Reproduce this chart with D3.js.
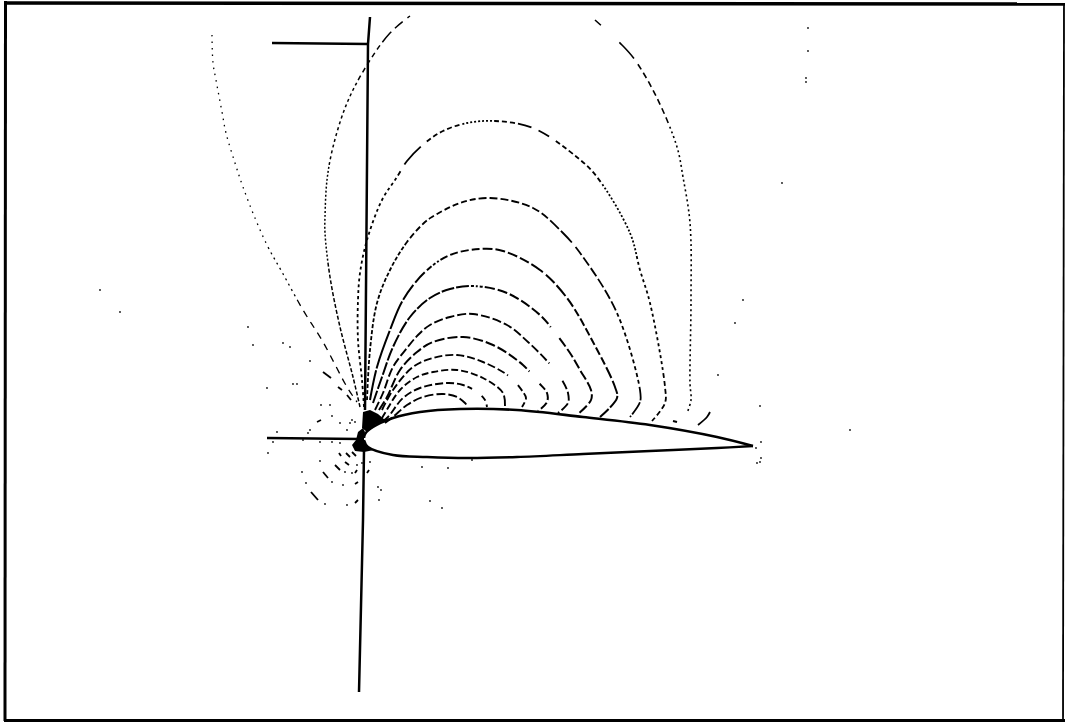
<!DOCTYPE html>
<html>
<head>
<meta charset="utf-8">
<style>
  html, body { margin: 0; background: #fff; }
  svg { display: block; }
</style>
<script src="https://cdn.jsdelivr.net/npm/d3@7"></script>
</head>
<body>
<svg width="1065" height="722"></svg>
<script>
// plot units: origin at the leading edge, chord = 392
var airfoilUpper = [[392,-1],[356,8],[289,20],[222,28],[156,35],[99,36],[59,33],[32,27],[12,18],[4,11],[3,7]];
var airfoilLower = [[3,5],[7,-2],[32,-10],[66,-12],[106,-13],[156,-12],[222,-9],[289,-6],[356,-3],[392,-1]];

var contour1 = [[24,22],[32,28],[46,40],[62,48],[82,51],[96,48],[104,42],[107,38]];
var contour2 = [[22,24],[27,28],[42,47],[59,57],[86,62],[102,60],[116,53],[124,45],[126,38]];
var contour3 = [[21,27],[24,32],[39,55],[56,68],[72,73],[96,75],[122,67],[142,52],[144,39]];
var contour4 = [[21,35],[32,55],[52,78],[72,87],[96,90],[122,83],[149,68],[162,53],[165,47],[161,38]];
var contour5 = [[18,35],[26,48],[39,75],[56,93],[72,103],[102,108],[132,100],[162,80],[177,63],[186,52],[186,43],[177,34]];
var contour6 = [[14,35],[22,52],[32,78],[46,97],[57,110],[69,120],[89,128],[112,131],[146,120],[167,103],[187,83],[196,72],[201,65],[207,52],[207,42],[197,32]];
var contour7 = [[12,42],[21,68],[32,98],[49,128],[69,147],[89,156],[112,159],[146,152],[179,130],[192,115],[209,92],[219,75],[230,55],[230,45],[217,31]];
var contour8 = [[9,45],[16,78],[29,115],[42,145],[64,173],[89,190],[119,196],[142,194],[179,175],[206,147],[232,103],[254,58],[256,47],[239,28]];
var contour9 = [[6,45],[9,95],[16,142],[29,175],[46,203],[64,223],[71,228],[99,242],[129,247],[172,237],[202,212],[222,188],[256,132],[279,55],[279,43],[269,28]];
var contour10 = [[3,38],[1,65],[-3,105],[-3,145],[-1,172],[6,205],[21,245],[36,268],[46,284],[64,302],[82,314],[106,322],[134,324],[172,317],[217,287],[236,268],[269,212],[279,175],[289,142],[304,58],[304,42],[291,24]];
var outerLeft = [[-1,38],[-8,68],[-21,118],[-31,168],[-36,212],[-36,228],[-34,265],[-28,298],[-14,342],[6,380],[29,412],[49,429]];
var outerRight = [[234,425],[261,400],[274,385],[296,347],[316,298],[322,268],[329,222],[330,145],[329,62],[330,45],[326,32]];
var farLeft = [[-149,410],[-148,382],[-145,365],[-139,333],[-135,312],[-126,282],[-118,258],[-106,227],[-93,198],[-79,173],[-58,135],[-38,103],[-14,58],[-4,43]];
var trailingDash = [[337,20],[346,28],[349,33]];
var trailingSpot = [[312,24],[316,23]];

var contours = [contour1, contour2, contour3, contour4, contour5, contour6, contour7, contour8, contour9, contour10, outerLeft, outerRight, farLeft];
var hookDash = '14 2 '.repeat(6);
var contourDash = [
  '9 3 '.repeat(11) + hookDash,
  '8 3 '.repeat(9) + '5 12 6 4 ' + hookDash,
  '7 3 '.repeat(14) + '8 3 ' + hookDash,
  '8 3 '.repeat(14) + '1 14 ' + '7 3 '.repeat(5) + hookDash,
  '10 3 '.repeat(15) + '1 16 ' + '8 3 '.repeat(9) + hookDash,
  '9 3 '.repeat(20) + '1 22 ' + '9 3 '.repeat(9) + hookDash,
  '13 2 '.repeat(11) + '3 2 2 2 3 2 ' + '10 3 '.repeat(6) + '1 14 ' + '10 3 '.repeat(8) + hookDash,
  '30 2 40 2 30 2 18 3 14 3 6 2 3 2 2 2 ' + '8 3 '.repeat(4) + '10 3 '.repeat(4) + '14 4 12 3 14 3 10 3 ' + '8 3 '.repeat(6) + '12 3 ' + hookDash,
  '4 2 '.repeat(27) + '6 3 '.repeat(10) + '8 3 '.repeat(7) + '12 3 16 6 ' + '10 3 '.repeat(6) + '4 3 '.repeat(11) + hookDash,
  '3 3 '.repeat(40) + '5 8 24 8 ' + '5 3 '.repeat(5) + '2 2 '.repeat(8) + '5 3 5 3 5 3 14 8 12 8 ' + '5 3 '.repeat(8) + '2 2 '.repeat(20) + '3 3 '.repeat(20) + '5 3 '.repeat(8) + hookDash,
  '4 2 '.repeat(25) + '2 2 '.repeat(24) + '3 3 '.repeat(15) + '5 4 '.repeat(5) + '14 5 10 6 6 40',
  '8 25 22 7 ' + '6 4 '.repeat(7) + '2 3 '.repeat(78) + '8 3 8 3 8 40',
  '1.5 5 '.repeat(34) + '2 4 '.repeat(10) + '7 6 '.repeat(20)
];
var contourWidth = [1.9, 1.9, 1.9, 1.9, 2, 1.9, 2, 2, 1.8, 1.8, 1.5, 1.6, 1.3];

var vertUpper = [[9,428],[7,401],[4,35]];
var vertLower = [[3,-5],[2,-75],[-2,-247]];
var tickTop = [[-89,402],[7,401]];
var tickLeft = [[-94,7],[-1,6]];
var frameTop = [[-356,442],[704,441]];
var frameLeft = [[-355.5,444],[-356,-276]];
var frameRight = [[703,440],[702,-276]];
var frameBottom = [[-357,-275.5],[704,-275.5]];

var blobUpper = [[2,33],[9,35],[17,31],[24,25],[14,20],[6,13],[1,17]];
var blobLower = [[-3,13],[2,17],[4,13],[3,9],[3,3],[7,-2],[13,-5],[3,-7],[-6,-6],[-9,0],[-5,5]];

var shortDashes = [
  [[-50,-47],[-43,-55]], [[-38,-27],[-33,-33]], [[-26,-20],[-21,-25]], [[-16,-17],[-12,-20]],
  [[-15,-8],[-11,-12]], [[-9,-7],[-5,-11]], [[-22,-8],[-20,-11]], [[-4,-25],[-6,-28]],
  [[-3,-37],[-6,-39]], [[-3,-55],[-6,-58]], [[8,-25],[6,-28]], [[-44,23],[-40,25]],
  [[-38,73],[-30,67]], [[-23,58],[-19,55]], [[-14,50],[-10,45]]
];
var specks = [
  [-78,102],[-71,98],[-51,84],[-68,61],[-64,61],[-94,57],[-40,40],[-31,40],[-29,29],[-21,22],[-9,25],[-11,22],
  [-6,23],[-14,15],[-51,15],[-53,12],[-84,13],[-88,3],[-93,-8],[-21,2],[-29,3],[-41,3],[-58,5],
  [-41,-16],[-29,-37],[-36,-59],[-59,-27],[-55,-38],[-16,-27],[-9,-28],[-4,-20],[1,-18],[9,-17],[-18,-40],
  [-14,-60],[18,-55],[17,-42],[20,-45],[69,-56],[81,-63],[61,-22],[87,-23],[111,-15],
  [447,417],[447,394],[445,367],[445,363],[421,262],[400,3],[400,-13],[399,-17],[395,-3],[396,-18],[399,39],
  [357,70],[382,145],[374,122],[-261,155],[-241,133],[-113,118],[-108,100],[489,15]
];

var svg = d3.select('svg'),
    width = +svg.attr('width'),
    height = +svg.attr('height');

var x = d3.scaleLinear().domain([-361, 704]).range([0, width]);
var y = d3.scaleLinear().domain([-277, 445]).range([height, 0]);

var smooth = d3.line()
    .x((d) => x(d[0]))
    .y((d) => y(d[1]))
    .curve(d3.curveCatmullRom.alpha(0.5));

var straight = d3.line()
    .x((d) => x(d[0]))
    .y((d) => y(d[1]));

svg.append('rect')
    .attr('width', width)
    .attr('height', height)
    .attr('fill', '#fff');

// frame
svg.append('g')
        .attr('class', 'frame')
    .selectAll('path')
    .data([frameTop, frameLeft, frameRight, frameBottom])
    .enter().append('path')
        .attr('d', straight)
        .attr('fill', 'none')
        .attr('stroke', '#000')
        .attr('stroke-width', (d, i) => [3.5, 3, 1.8, 2.8][i]);

// contour lines
svg.append('g')
        .attr('class', 'contours')
    .selectAll('path')
    .data(contours)
    .enter().append('path')
        .attr('d', smooth)
        .attr('fill', 'none')
        .attr('stroke', '#000')
        .attr('stroke-width', (d, i) => contourWidth[i])
        .attr('stroke-dasharray', (d, i) => contourDash[i]);

svg.append('path')
    .attr('d', smooth(trailingDash))
    .attr('fill', 'none')
    .attr('stroke', '#000')
    .attr('stroke-width', 1.8);

svg.append('path')
    .attr('d', straight(trailingSpot))
    .attr('fill', 'none')
    .attr('stroke', '#000')
    .attr('stroke-width', 2.2);

// the reference lines
svg.append('g')
        .attr('class', 'axes')
    .selectAll('path')
    .data([vertUpper, vertLower, tickTop, tickLeft])
    .enter().append('path')
        .attr('d', straight)
        .attr('fill', 'none')
        .attr('stroke', '#000')
        .attr('stroke-width', 2.5);

// dense ends of the contours at the nose
svg.append('g')
    .selectAll('path')
    .data([blobUpper, blobLower])
    .enter().append('path')
        .attr('d', (d) => straight(d) + 'Z')
        .attr('fill', '#000');

svg.append('g')
    .selectAll('path')
    .data(shortDashes)
    .enter().append('path')
        .attr('d', straight)
        .attr('fill', 'none')
        .attr('stroke', '#000')
        .attr('stroke-width', 1.8);

svg.append('g')
    .selectAll('circle')
    .data(specks)
    .enter().append('circle')
        .attr('cx', (d) => x(d[0]))
        .attr('cy', (d) => y(d[1]))
        .attr('r', 0.9)
        .attr('fill', '#111');

// airfoil
svg.append('path')
    .attr('d', smooth(airfoilUpper))
    .attr('fill', 'none')
    .attr('stroke', '#000')
    .attr('stroke-width', 2.6);

svg.append('path')
    .attr('d', smooth(airfoilLower))
    .attr('fill', 'none')
    .attr('stroke', '#000')
    .attr('stroke-width', 2.4);
</script>
</body>
</html>
